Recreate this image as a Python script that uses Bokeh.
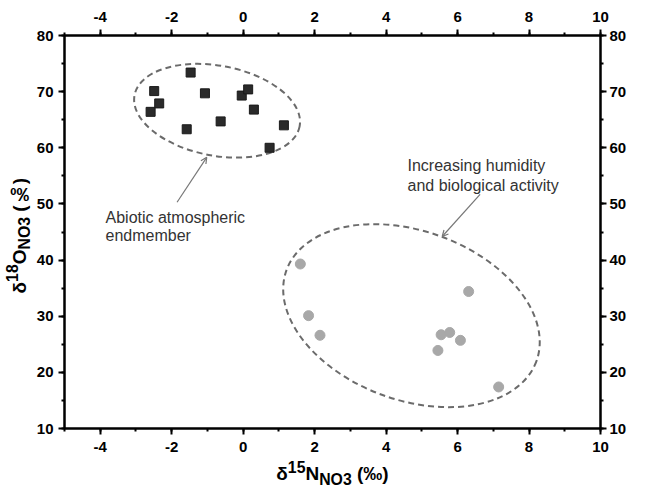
import math
from bokeh.plotting import figure
from bokeh.models import (Label, Arrow, OpenHead, LinearAxis, SingleIntervalTicker,
                          Range1d, ColumnDataSource, Div, PrintfTickFormatter)
from bokeh.layouts import row, column
from bokeh.embed import file_html
from bokeh.resources import INLINE

# ---- data ----
abiotic_x = [-2.59, -2.49, -2.35, -1.47, -1.58, -1.07, -0.63, -0.04, 0.14, 0.30, 0.74, 1.14]
abiotic_y = [66.4, 70.1, 67.9, 73.4, 63.3, 69.7, 64.7, 69.3, 70.4, 66.8, 60.0, 64.0]
bio_x = [1.60, 1.83, 2.15, 5.45, 5.54, 5.78, 6.08, 6.31, 7.15]
bio_y = [39.3, 30.1, 26.6, 23.9, 26.7, 27.1, 25.7, 34.4, 17.4]

# group envelopes: centre (data), size (screen px), tilt (deg)
env_x = [-0.73, 4.71]
env_y = [66.6, 30.1]
env_w = [168, 266]
env_h = [90, 169]
env_angle = [-10.7, -20.0]

x_range = (-5, 10)
y_range = (10, 80)
x_tick_step = 2
y_tick_step = 10

x_title = "δ<sup>15</sup>N<sub>NO3</sub> (‰)"
y_title = "δ<sup>18</sup>O<sub>NO3</sub> (‰)"

FONT = "Liberation Sans"

p = figure(width=599, height=459, output_backend="svg", toolbar_location=None,
           x_range=Range1d(*x_range), y_range=Range1d(*y_range),
           min_border_left=34, min_border_right=26, min_border_top=35, min_border_bottom=31,
           margin=(0, 0, 0, 0))
p.xgrid.visible = False
p.ygrid.visible = False
p.outline_line_color = "black"
p.outline_line_width = 2
p.background_fill_color = "white"
p.border_fill_color = "white"

xt = SingleIntervalTicker(interval=x_tick_step, num_minor_ticks=2)
yt = SingleIntervalTicker(interval=y_tick_step, num_minor_ticks=2)

def style(ax, standoff):
    ax.formatter = PrintfTickFormatter(format="%d")
    ax.axis_line_width = 2
    ax.axis_line_color = "black"
    ax.major_tick_line_width = 2
    ax.minor_tick_line_width = 2
    ax.major_tick_out = 6
    ax.major_tick_in = 0
    ax.minor_tick_out = 3
    ax.minor_tick_in = 0
    ax.major_label_text_font = FONT
    ax.major_label_text_font_style = "bold"
    ax.major_label_text_font_size = "15px"
    ax.major_label_text_color = "black"
    ax.major_label_standoff = standoff

p.xaxis.ticker = xt
p.yaxis.ticker = yt
style(p.xaxis[0], 7)
style(p.yaxis[0], 5)
top = LinearAxis(ticker=xt)
style(top, 8)
p.add_layout(top, "above")
right = LinearAxis(ticker=yt)
style(right, 3)
p.add_layout(right, "right")

# envelopes
env_src = ColumnDataSource(dict(x=env_x, y=env_y, w=env_w, h=env_h,
                                a=[math.radians(a) for a in env_angle]))
p.ellipse(x="x", y="y", width="w", height="h", angle="a", source=env_src,
          width_units="screen", height_units="screen",
          fill_alpha=0, line_color="#6b6b6b", line_width=2, line_dash="6 4")

# points
p.scatter(abiotic_x, abiotic_y, marker="square", size=9, fill_color="#2a2a2a",
          line_color="#1a1a1a", line_width=1)
p.scatter(bio_x, bio_y, marker="circle", size=10, fill_color="#a8a8a8",
          line_color="#a8a8a8", line_width=1)

# annotations
ann_color = "#333333"
for txt, xs, ys in [("Abiotic atmospheric", 41, 211), ("endmember", 41, 193),
                    ("Increasing humidity", 343, 263), ("and biological activity", 343, 243)]:
    p.add_layout(Label(x=xs, y=ys, x_units="screen", y_units="screen", text=txt,
                       text_font=FONT, text_font_size="16px", text_color=ann_color,
                       text_baseline="alphabetic"))

p.add_layout(Arrow(end=OpenHead(size=6, line_color="#777777", line_width=1.2),
                   x_start=-1.85, y_start=50.3, x_end=-1.02, y_end=58.3,
                   line_color="#777777", line_width=1.2))
p.add_layout(Arrow(end=OpenHead(size=6, line_color="#777777", line_width=1.2),
                   x_start=6.63, y_start=51.7, x_end=5.57, y_end=44.2,
                   line_color="#777777", line_width=1.2))

# axis titles (HTML text with sub/superscripts)
base_css = ("font-family:'Liberation Sans',Arial,sans-serif;font-weight:bold;font-size:19px;"
            "color:black;white-space:nowrap;line-height:18px;")
ydiv = Div(width=30, height=477, margin=(0, 0, 0, 0),
           text=f'<div style="{base_css}writing-mode:vertical-rl;transform:rotate(180deg);'
                f'margin-top:178px;margin-left:4px;">{y_title}</div>')
xdiv = Div(width=599, height=18, margin=(0, 0, 0, 0),
           text=f'<div style="{base_css}width:599px;text-align:center;padding-left:6px;'
                f'box-sizing:border-box;">{x_title}</div>')

layout = row(ydiv, column(p, xdiv, spacing=0), spacing=0)

open("out.html", "w").write(file_html(layout, INLINE))
